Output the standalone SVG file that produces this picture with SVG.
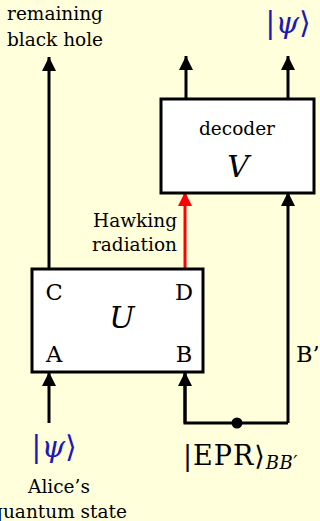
<svg xmlns="http://www.w3.org/2000/svg" width="320" height="521" viewBox="0 0 320 521">
<defs>
<marker id="ah" viewBox="0 0 10 10" refX="10" refY="5" markerWidth="4.7" markerHeight="5.3" markerUnits="strokeWidth" orient="auto">
<path d="M0,0 L10,5 L0,10 z" fill="#000"/>
</marker>
<marker id="ahr" viewBox="0 0 10 10" refX="10" refY="5" markerWidth="4.7" markerHeight="5.3" markerUnits="strokeWidth" orient="auto">
<path d="M0,0 L10,5 L0,10 z" fill="#ff0000"/>
</marker>
<style>
.t{font-family:"DejaVu Serif","Liberation Serif",serif;fill:#000}
.s{font-size:18.5px}
.l{font-size:22.5px}
.m{font-style:italic;font-size:30px}
.it{font-style:italic}
.blue{fill:#1a1ab8}
.box{fill:#fff;stroke:#000;stroke-width:3}
.ln{stroke:#000;stroke-width:3;fill:none}
</style>
</defs>
<rect x="0" y="0" width="320" height="521" fill="#ffffdb"/>
<g id="connectors">
<line class="ln" x1="49" y1="269" x2="49" y2="57" marker-end="url(#ah)"/>
<line class="ln" x1="186" y1="99" x2="186" y2="56" marker-end="url(#ah)"/>
<line class="ln" x1="288" y1="99" x2="288" y2="56" marker-end="url(#ah)"/>
<line x1="185" y1="269" x2="185" y2="192" stroke="#ff0000" stroke-width="3" marker-end="url(#ahr)"/>
<line class="ln" x1="288" y1="423" x2="288" y2="192" marker-end="url(#ah)"/>
<line class="ln" x1="49" y1="423" x2="49" y2="372" marker-end="url(#ah)"/>
<polyline class="ln" points="185,372 185,423 288,423"/>
<line class="ln" x1="185" y1="423" x2="185" y2="372" marker-end="url(#ah)"/>
<circle cx="237" cy="423" r="5.5" fill="#000"/>
</g>
<g id="U">
<rect class="box" x="32" y="269" width="171" height="103"/>
<text class="t l" x="54" y="300" text-anchor="middle">C</text>
<text class="t l" x="184" y="300" text-anchor="middle">D</text>
<text class="t l" x="54" y="362" text-anchor="middle">A</text>
<text class="t l" x="184" y="362" text-anchor="middle">B</text>
<text class="t m" x="122" y="328" text-anchor="middle">U</text>
</g>
<g id="decoder">
<rect class="box" x="161" y="99" width="153" height="94"/>
<text class="t s" x="237" y="135" text-anchor="middle">decoder</text>
<text class="t m" x="238" y="177" text-anchor="middle">V</text>
</g>
<g id="labels">
<text class="t s" x="55" y="20" text-anchor="middle">remaining</text>
<text class="t s" x="55" y="46" text-anchor="middle">black hole</text>
<text class="t blue" x="288" y="33" font-size="30" text-anchor="middle">|<tspan class="it">ψ</tspan>⟩</text>
<text class="t s" x="177" y="227" text-anchor="end">Hawking</text>
<text class="t s" x="177" y="251" text-anchor="end">radiation</text>
<text class="t l" x="296" y="362">B’</text>
<text class="t blue" x="54" y="457" font-size="30" text-anchor="middle">|<tspan class="it">ψ</tspan>⟩</text>
<text class="t s" x="59" y="493" text-anchor="middle">Alice’s</text>
<text class="t s" x="59" y="518" text-anchor="middle">quantum state</text>
<text class="t" x="183" y="465" font-size="27" letter-spacing="1">|EPR⟩<tspan class="it" font-size="18" dy="4" letter-spacing="0.5">BB′</tspan></text>
</g>
</svg>
